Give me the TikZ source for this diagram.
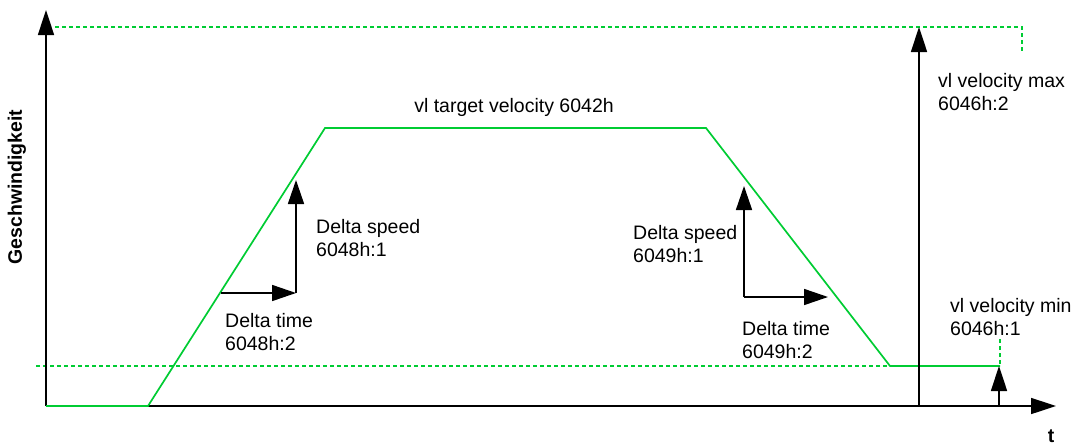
\documentclass[tikz,border=0pt]{standalone}
\usepackage{fontspec}
\setmainfont{Liberation Sans}
\usetikzlibrary{arrows.meta}
\definecolor{profilegreen}{RGB}{0,204,51}

\begin{document}
\begin{tikzpicture}[
    x=1pt, y=-1pt,
    font=\fontsize{19.5}{23}\selectfont,
    axis/.style={-{Triangle[length=25pt,width=16pt]}, line width=1.6pt, black},
    delta/.style={-{Triangle[length=24pt,width=16pt]}, line width=1.6pt, black},
    profile/.style={profilegreen, line width=1.7pt},
    limit/.style={profilegreen, line width=1.6pt, dash pattern=on 4pt off 3pt},
    note/.style={anchor=north west, align=left, inner sep=0pt}
]
\useasboundingbox (0,0) rectangle (1078,445);
%
\coordinate (origin) at (46,406);
\coordinate (ytop) at (46,10);
\coordinate (xend) at (1056,406);
\coordinate (maxfoot) at (919,406);
\coordinate (maxtip) at (919,27);
\coordinate (minfoot) at (999,406);
\coordinate (mintip) at (999,366);
%
% limits
\draw[limit] (55,27) -- (1022,27) -- (1022,52);
\draw[limit] (36,366) -- (1000,366) -- (1000,338);
%
% axes
\draw[axis] (origin) -- (ytop);
\draw[axis] (origin) -- (xend);
\node[font=\fontsize{19.5}{23}\selectfont\bfseries, rotate=90] (ylabel) at (17,187) {Geschwindigkeit};
\node[font=\fontsize{19.5}{23}\selectfont\bfseries] (xlabel) at (1051,436) {t};
%
% velocity profile
\coordinate (rampstart) at (148,406);
\coordinate (topleft) at (325,128);
\coordinate (topright) at (706,128);
\coordinate (rampend) at (890,366);
\coordinate (minend) at (1000,366);
\draw[profile] (origin) -- (rampstart) -- (topleft) -- (topright) -- (rampend) -- (minend);
\node[anchor=north, inner sep=0pt] (target) at (514,98) {vl target velocity 6042h};
%
% max / min velocity
\draw[axis] (maxfoot) -- (maxtip);
\node[note] (vmax) at (938,73) {vl velocity max\\6046h:2};
\draw[axis] (minfoot) -- (mintip);
\node[note] (vmin) at (950,298) {vl velocity min\\6046h:1};
%
% acceleration
\coordinate (accstart) at (221,293);
\coordinate (acccorner) at (296,293);
\coordinate (acctip) at (296,180);
\draw[delta] (accstart) -- (acccorner);
\draw[delta] (acccorner) -- (acctip);
\node[note] (accspeed) at (316,219) {Delta speed\\6048h:1};
\node[note] (acctime) at (225,313) {Delta time\\6048h:2};
%
% deceleration
\coordinate (deccorner) at (744,297);
\coordinate (dectip) at (744,186);
\coordinate (decend) at (828,297);
\draw[delta] (deccorner) -- (dectip);
\draw[delta] (deccorner) -- (decend);
\node[note] (decspeed) at (633,225) {Delta speed\\6049h:1};
\node[note] (dectime) at (742,321) {Delta time\\6049h:2};
\end{tikzpicture}
\end{document}
